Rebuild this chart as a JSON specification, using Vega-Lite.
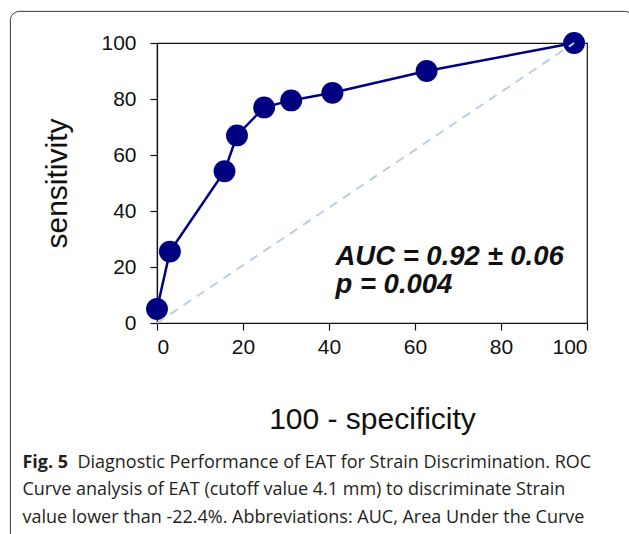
{
  "$schema": "https://vega.github.io/schema/vega-lite/v6.json",
  "width": 430,
  "height": 280,
  "autosize": {"type": "none"},
  "padding": {"left": 157, "top": 43, "right": 42, "bottom": 211},
  "background": "white",
  "config": {
    "view": {"stroke": "#111", "strokeWidth": 1.2},
    "axis": {
      "domainColor": "#111", "domainWidth": 1.2, "tickColor": "#111", "tickWidth": 1.2, "tickSize": 7,
      "grid": false, "labelFont": "Liberation Sans", "labelFontSize": 21, "labelColor": "#111",
      "titleFont": "Liberation Sans", "titleFontWeight": "normal", "titleColor": "#111", "titleFontSize": 30
    }
  },
  "layer": [
    {
      "data": {"values": [{"x": -34.1, "x2": 110.8, "y": 111.3, "y2": -78}]},
      "mark": {"type": "rect", "fill": null, "stroke": "#333", "strokeWidth": 1, "cornerRadius": 9, "clip": false},
      "encoding": {
        "x": {"field": "x", "type": "quantitative"},
        "x2": {"field": "x2"},
        "y": {"field": "y", "type": "quantitative"},
        "y2": {"field": "y2"}
      }
    },
    {
      "data": {"values": [
        {"fpr": 0, "tpr": 5}, {"fpr": 3, "tpr": 25.5}, {"fpr": 15.7, "tpr": 54.2},
        {"fpr": 18.6, "tpr": 67}, {"fpr": 24.9, "tpr": 77}, {"fpr": 31.2, "tpr": 79.5},
        {"fpr": 40.8, "tpr": 82.2}, {"fpr": 62.7, "tpr": 90}, {"fpr": 97, "tpr": 100}
      ]},
      "layer": [
        {"mark": {"type": "line", "color": "#000080", "strokeWidth": 2.5, "clip": false},
         "encoding": {
           "x": {"field": "fpr", "type": "quantitative", "scale": {"domain": [0, 100]},
                 "axis": {"values": [0, 20, 40, 60, 80, 100], "labelPadding": 6, "title": "100 - specificity", "titlePadding": 47}},
           "y": {"field": "tpr", "type": "quantitative", "scale": {"domain": [0, 100]},
                 "axis": {"values": [0, 20, 40, 60, 80, 100], "labelPadding": 14, "title": "sensitivity", "titlePadding": 28}}
         }},
        {"mark": {"type": "circle", "color": "#000080", "opacity": 1, "size": 480, "clip": false},
         "encoding": {
           "x": {"field": "fpr", "type": "quantitative"},
           "y": {"field": "tpr", "type": "quantitative"}
         }}
      ]
    },
    {
      "data": {"values": [{"fpr": 0, "tpr": 0}, {"fpr": 97, "tpr": 100}]},
      "mark": {"type": "line", "color": "#b9cfe6", "strokeWidth": 2, "strokeDash": [9, 7]},
      "encoding": {
        "x": {"field": "fpr", "type": "quantitative"},
        "y": {"field": "tpr", "type": "quantitative"}
      }
    },
    {
      "data": {"values": [
        {"x": 41.5, "y": 20.6, "t": "AUC = 0.92 \u00b1 0.06"},
        {"x": 41.5, "y": 10.6, "t": "p = 0.004"}
      ]},
      "mark": {"type": "text", "align": "left", "baseline": "alphabetic", "font": "Liberation Sans", "fontSize": 27.5, "fontWeight": "bold", "fontStyle": "italic", "color": "#111"},
      "encoding": {
        "x": {"field": "x", "type": "quantitative"},
        "y": {"field": "y", "type": "quantitative"},
        "text": {"field": "t"}
      }
    },
    {
      "data": {"values": [
        {"x": -31.3, "y": -51.9, "t": "Fig. 5"}
      ]},
      "mark": {"type": "text", "align": "left", "baseline": "alphabetic", "font": "Open Sans", "fontSize": 18, "fontWeight": "bold", "color": "#231f20", "clip": false},
      "encoding": {
        "x": {"field": "x", "type": "quantitative"},
        "y": {"field": "y", "type": "quantitative"},
        "text": {"field": "t"}
      }
    },
    {
      "data": {"values": [
        {"x": -18.5, "y": -51.9, "t": "Diagnostic Performance of EAT for Strain Discrimination. ROC"},
        {"x": -31.3, "y": -61.6, "t": "Curve analysis of EAT (cutoff value 4.1 mm) to discriminate Strain"},
        {"x": -31.3, "y": -71.3, "t": "value lower than -22.4%. Abbreviations: AUC, Area Under the Curve"}
      ]},
      "mark": {"type": "text", "align": "left", "baseline": "alphabetic", "font": "Open Sans", "fontSize": 18, "color": "#231f20", "clip": false},
      "encoding": {
        "x": {"field": "x", "type": "quantitative"},
        "y": {"field": "y", "type": "quantitative"},
        "text": {"field": "t"}
      }
    }
  ]
}
